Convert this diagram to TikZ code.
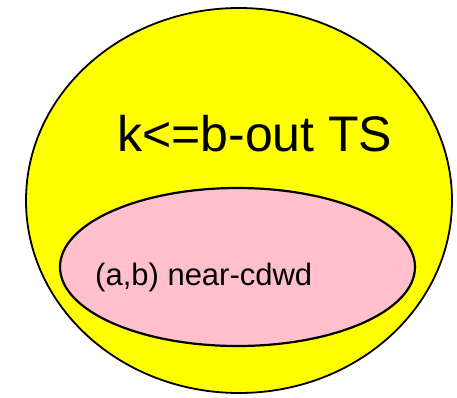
\documentclass[tikz,border=0pt]{standalone}
\usepackage{fontspec}
\setmainfont{Liberation Sans}
\usetikzlibrary{shapes.geometric}
\definecolor{setyellow}{RGB}{255,255,0}
\definecolor{setpink}{RGB}{255,192,203}
\tikzset{
  setshape/.style={ellipse, draw=black, inner sep=0pt},
  outerset/.style={setshape, fill=setyellow, line width=1.8pt,
    minimum width=426pt, minimum height=385pt},
  innerset/.style={setshape, fill=setpink, line width=2.2pt,
    minimum width=355pt, minimum height=158pt},
  setlabel/.style={anchor=base west, inner sep=0pt}
}
\begin{document}
\begin{tikzpicture}[x=1pt,y=1pt]
  \useasboundingbox (0,0) rectangle (457,397);
  \node[outerset] (outer) at (239,196.5) {};
  \node[innerset] (inner) at (237.5,130) {};
  \node[setlabel, font=\fontsize{50}{56}\selectfont] (outerlabel) at (117,246) {k<=b-out TS};
  \node[setlabel, font=\fontsize{31}{36}\selectfont] (innerlabel) at (95,112) {(a,b) near-cdwd};
\end{tikzpicture}
\end{document}
